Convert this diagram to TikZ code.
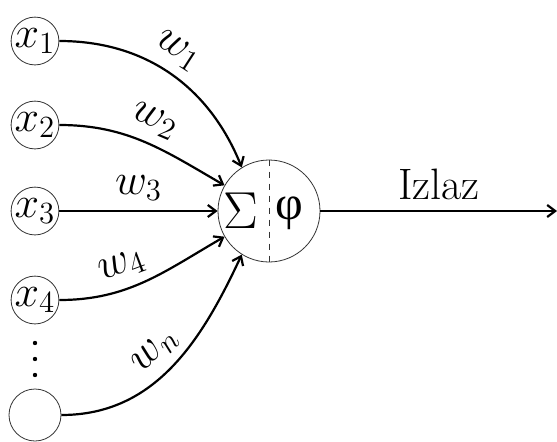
\RequirePackage{fix-cm}
\documentclass[tikz,border=0pt]{standalone}
\usepackage{amsmath}
\usepackage{fontspec}
\newfontfamily\greekfont{Liberation Serif}
\usetikzlibrary{arrows.meta,positioning}

\begin{document}
\begin{tikzpicture}[x=0.5pt,y=0.5pt,>={Straight Barb[length=4pt,width=6pt]},
  font=\fontsize{22}{26}\selectfont,
  input/.style={draw=black!80,circle,minimum size=23pt,inner sep=0pt},
  neuron/.style={draw=black!80,circle,minimum size=51pt,inner sep=0pt},
  weight/.style={->,line width=1.1pt},
  wlabel/.style={sloped,above,inner sep=4.5pt},
  dot/.style={fill=black,circle,minimum size=2.2pt,inner sep=0pt}]
\useasboundingbox (0,0) rectangle (557,441);
\node[input] (x1) at (35,400) {$x_1$};
\node[input] (x2) at (35,316) {$x_2$};
\node[input] (x3) at (35,230) {$x_3$};
\node[input] (x4) at (35,141) {$x_4$};
\foreach \i/\y in {1/98,2/82,3/66}
  \node[dot] (dot\i) at (35,\y) {};
\node[input,minimum size=26pt] (xn) at (35,26) {};
\node[neuron] (sum) at (269,230) {};
\node[font=\fontsize{26}{30}\selectfont] (sigma) at (241,230) {$\Sigma$};
\node[font=\fontsize{24}{28}\selectfont] (phi) at (289,228) {\greekfont φ};
\draw[dashed,black!80] (sum.north)--(sum.south);
\coordinate (out) at (557,230);
% weighted inputs
\draw[weight] (x1.east) to[out=0,in=112] node[wlabel,pos=0.47] {$w_1$} (sum.122);
\draw[weight] (x2.east) to[out=0,in=150] node[wlabel,pos=0.5] {$w_2$} (sum.150);
\draw[weight] (x3.east) -- node[wlabel,pos=0.5] {$w_3$} (sum.west);
\draw[weight] (x4.east) to[out=0,in=210] node[wlabel,pos=0.4] {$w_4$} (sum.210);
\draw[weight] (xn.east) to[out=0,in=245] node[wlabel,pos=0.5] {$w_n$} (sum.238);
% output
\draw[weight] (sum.east) -- node[above,inner sep=5pt] {Izlaz} (out);
\end{tikzpicture}
\end{document}
